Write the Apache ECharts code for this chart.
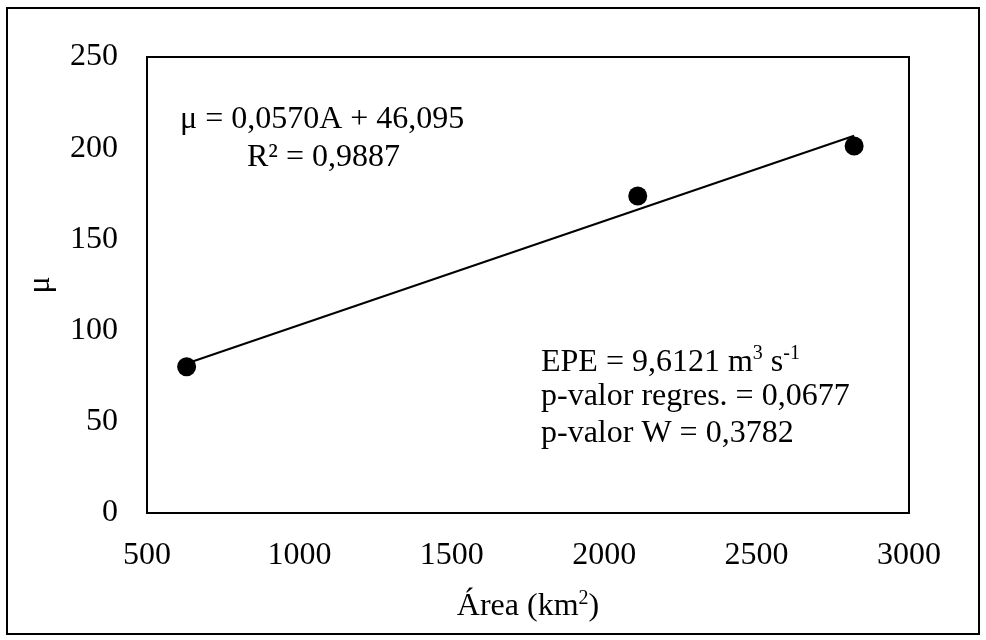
<!DOCTYPE html>
<html>
<head>
<meta charset="utf-8">
<script src="https://cdn.jsdelivr.net/npm/echarts@6/dist/echarts.min.js"></script>
<style>
  html, body { margin: 0; padding: 0; background: #fff; }
  #chart { width: 986px; height: 640px; }
</style>
</head>
<body>
<div id="chart"></div>
<script>
// Observed catchments: drainage area (km²) and mean μ
const areaKm2 = [630, 2110, 2820];
const muValues = [80.2, 173.8, 201.2];

// Linear trend μ = 0,0570A + 46,095 at the ends of the data range
const trendArea = [630, 2820];
const trendMu = [82.0, 206.8];

// Axis ranges and tick values
const xTicks = [500, 1000, 1500, 2000, 2500, 3000];
const yTicks = [0, 50, 100, 150, 200, 250];

const FONT = "'Liberation Serif', 'Times New Roman', serif";
const FS = 32;

const chart = echarts.init(document.getElementById('chart'), null, { renderer: 'canvas' });

const supStyle = { fontFamily: FONT, fontSize: 20, verticalAlign: 'top', color: '#000', lineHeight: 35 };
const baseStyle = { fontFamily: FONT, fontSize: FS, color: '#000', lineHeight: 35, verticalAlign: 'bottom' };

chart.setOption({
  animation: false,
  backgroundColor: '#fff',
  grid: {
    left: 147, top: 57, right: 77, bottom: 127,
    show: true, borderColor: '#000', borderWidth: 2, backgroundColor: 'transparent'
  },
  xAxis: {
    type: 'value',
    min: xTicks[0], max: xTicks[xTicks.length - 1], interval: 500,
    name: 'Área (km{s|2})',
    nameLocation: 'middle', nameGap: 76,
    nameTextStyle: {
      fontFamily: FONT, fontSize: FS, color: '#000',
      rich: { s: supStyle }
    },
    axisLine: { show: true, lineStyle: { color: '#000', width: 2 } },
    axisTick: { show: false },
    splitLine: { show: false },
    axisLabel: {
      fontFamily: FONT, fontSize: FS, color: '#000', margin: 27,
      formatter: v => String(v)
    }
  },
  yAxis: {
    type: 'value',
    min: yTicks[0], max: yTicks[yTicks.length - 1], interval: 50,
    name: 'μ',
    nameLocation: 'middle', nameGap: 90, nameRotate: 90,
    nameTextStyle: { fontFamily: FONT, fontSize: FS, color: '#000' },
    axisLine: { show: true, lineStyle: { color: '#000', width: 2 } },
    axisTick: { show: false },
    splitLine: { show: false },
    axisLabel: { fontFamily: FONT, fontSize: FS, color: '#000', margin: 29 }
  },
  graphic: [
    {
      type: 'rect', silent: true, z: -1,
      shape: { x: 7, y: 8, width: 972, height: 626 },
      style: { fill: 'none', stroke: '#000', lineWidth: 2 }
    },
    {
      type: 'text', left: 180, top: 104,
      style: {
        text: 'μ = 0,0570A + 46,095',
        font: FS + 'px ' + FONT, fill: '#000'
      }
    },
    {
      type: 'text', left: 247, top: 142,
      style: {
        text: 'R² = 0,9887',
        font: FS + 'px ' + FONT, fill: '#000'
      }
    },
    {
      type: 'text', left: 541, top: 344,
      style: {
        text: '{b|EPE = 9,6121 m}{s|3}{b| s}{s|-1}',
        rich: { b: baseStyle, s: supStyle }
      }
    },
    {
      type: 'text', left: 541, top: 381,
      style: {
        text: 'p-valor regres. = 0,0677',
        font: FS + 'px ' + FONT, fill: '#000'
      }
    },
    {
      type: 'text', left: 541, top: 418,
      style: {
        text: 'p-valor W = 0,3782',
        font: FS + 'px ' + FONT, fill: '#000'
      }
    }
  ],
  series: [
    {
      type: 'line',
      data: trendArea.map((a, i) => [a, trendMu[i]]),
      showSymbol: false,
      lineStyle: { color: '#000', width: 2 },
      z: 2
    },
    {
      type: 'scatter',
      data: areaKm2.map((a, i) => [a, muValues[i]]),
      symbol: 'circle',
      symbolSize: 19,
      itemStyle: { color: '#000', opacity: 1 },
      z: 3
    }
  ]
});
</script>
</body>
</html>
